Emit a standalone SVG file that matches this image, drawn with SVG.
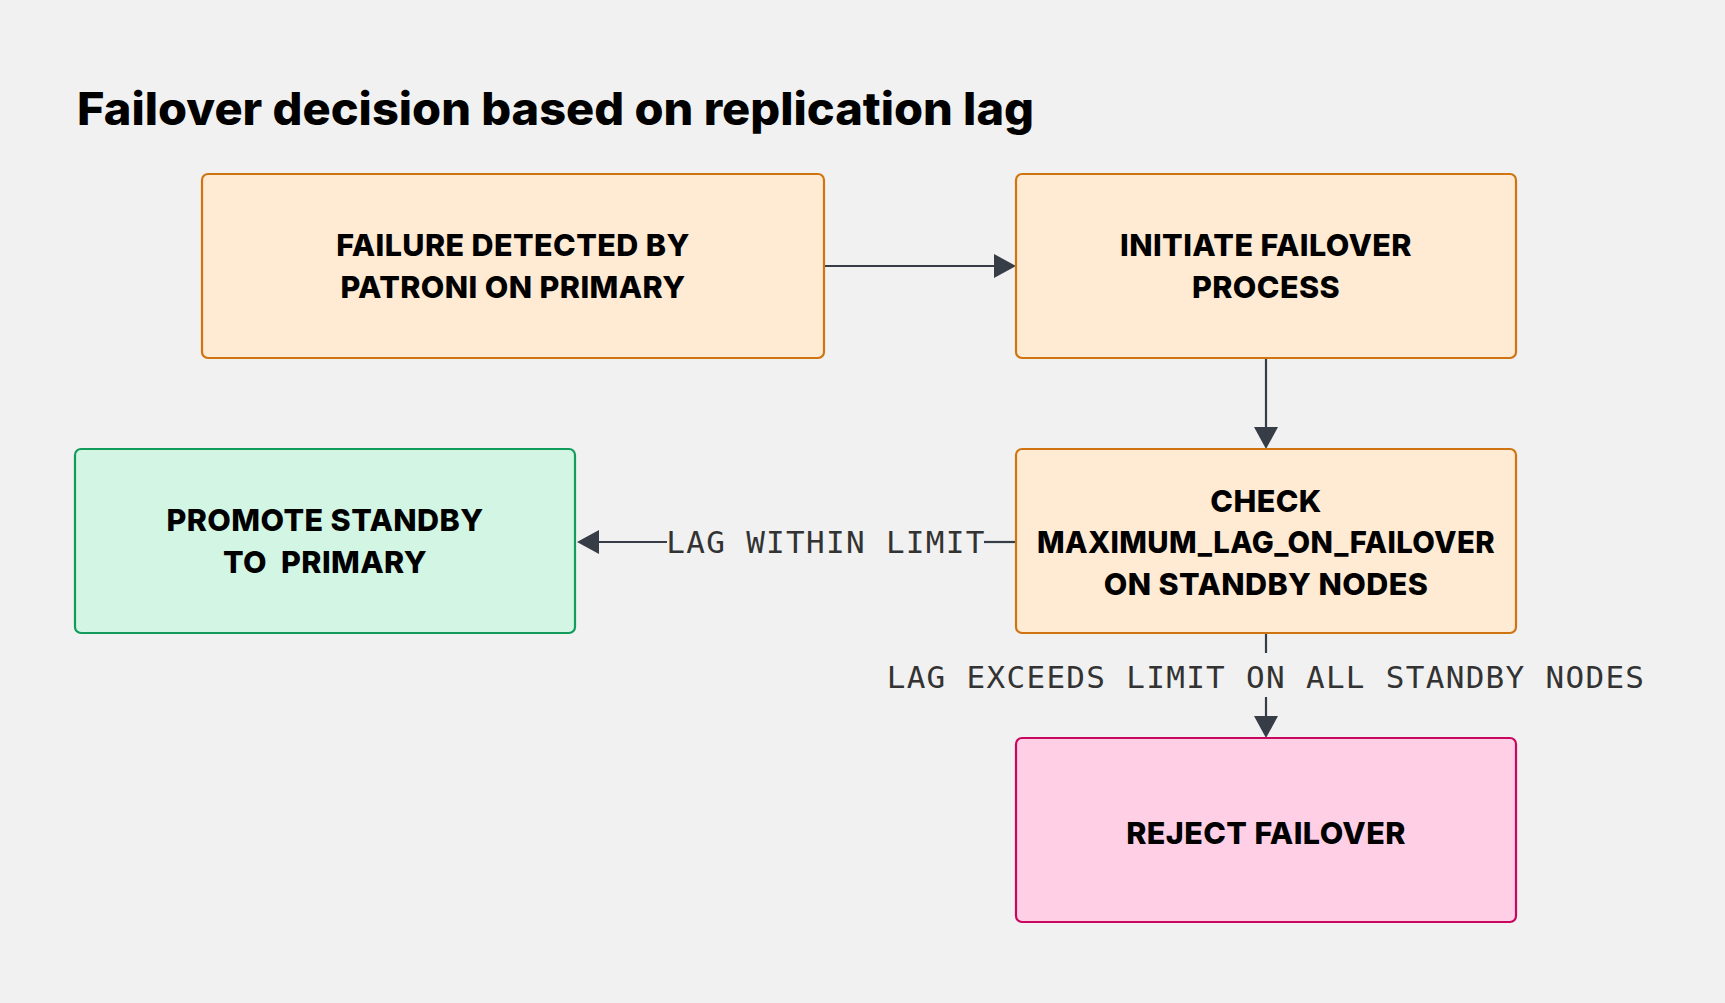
<svg xmlns="http://www.w3.org/2000/svg" width="1725" height="1003" viewBox="0 0 1725 1003">
<defs>
<style>
.bg{fill:#f1f1f1}
.box{stroke-width:2.2}
.orange{fill:#ffead3;stroke:#cf7410}
.green{fill:#d3f5e3;stroke:#129c5c}
.pink{fill:#ffd0e5;stroke:#c9075f}
.t{font-family:Inter,"Liberation Sans",sans-serif;font-weight:800;font-size:30.5px;fill:#000;text-anchor:middle;letter-spacing:0.4px}
.title{font-family:Inter,"Liberation Sans",sans-serif;font-weight:800;font-size:45px;fill:#000}
.lbl{font-family:"DejaVu Sans Mono","Liberation Mono",monospace;font-size:31px;fill:#333;letter-spacing:1.3px}
.edge{stroke:#363d47;stroke-width:2.2;fill:none}
</style>
</defs>
<rect class="bg" x="0" y="0" width="1725" height="1003"/>
<text class="title" x="77" y="125" textLength="957" lengthAdjust="spacingAndGlyphs">Failover decision based on replication lag</text>
<g id="connectors">
<line class="edge" x1="824" y1="266" x2="995" y2="266"/>
<path d="M994,254 L1016,266 L994,278 z" fill="#363d47"/>
<line class="edge" x1="1266" y1="358" x2="1266" y2="428"/>
<path d="M1254,427 L1266,449 L1278,427 z" fill="#363d47"/>
<line class="edge" x1="1016" y1="542" x2="984" y2="542"/>
<line class="edge" x1="667" y1="542" x2="598" y2="542"/>
<path d="M599,530 L577,542 L599,554 z" fill="#363d47"/>
<text class="lbl" x="826" y="553" text-anchor="middle">LAG WITHIN LIMIT</text>
<line class="edge" x1="1266" y1="634" x2="1266" y2="653"/>
<line class="edge" x1="1266" y1="697" x2="1266" y2="717"/>
<path d="M1254,716 L1266,738 L1278,716 z" fill="#363d47"/>
<text class="lbl" x="1266" y="688" text-anchor="middle">LAG EXCEEDS LIMIT ON ALL STANDBY NODES</text>
</g>
<g id="n1">
<rect class="box orange" x="202" y="174" width="622" height="184" rx="6"/>
<text class="t" x="513" y="256">FAILURE DETECTED BY</text>
<text class="t" x="513" y="298">PATRONI ON PRIMARY</text>
</g>
<g id="n2">
<rect class="box orange" x="1016" y="174" width="500" height="184" rx="6"/>
<text class="t" x="1266" y="256">INITIATE FAILOVER</text>
<text class="t" x="1266" y="298">PROCESS</text>
</g>
<g id="n3">
<rect class="box orange" x="1016" y="449" width="500" height="184" rx="6"/>
<text class="t" x="1266" y="512">CHECK</text>
<text class="t" x="1266" y="553" textLength="458" lengthAdjust="spacingAndGlyphs">MAXIMUM_LAG_ON_FAILOVER</text>
<text class="t" x="1266" y="595">ON STANDBY NODES</text>
</g>
<g id="n4">
<rect class="box green" x="75" y="449" width="500" height="184" rx="6"/>
<text class="t" x="325" y="531">PROMOTE STANDBY</text>
<text class="t" x="325" y="573" xml:space="preserve">TO  PRIMARY</text>
</g>
<g id="n5">
<rect class="box pink" x="1016" y="738" width="500" height="184" rx="6"/>
<text class="t" x="1266" y="844">REJECT FAILOVER</text>
</g>
</svg>
